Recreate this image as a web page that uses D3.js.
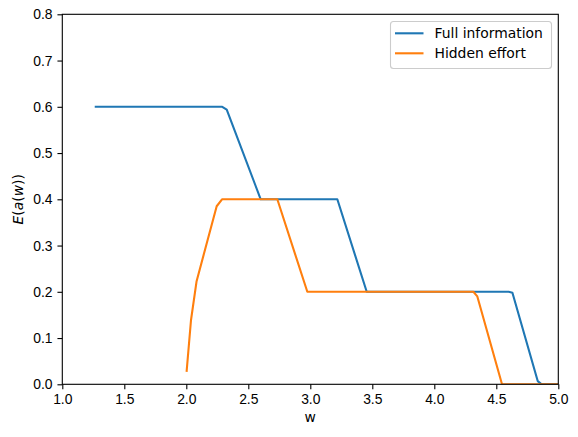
<!DOCTYPE html>
<html>
<head>
<meta charset="utf-8">
<script src="https://cdn.jsdelivr.net/npm/d3@7"></script>
<style>
  body { margin: 0; background: #fff; }
  svg { font-family: "DejaVu Sans", sans-serif; }
  .tick text { font-size: 13.9px; fill: #000; }
  .tick line { stroke: #000; stroke-width: 1.1; }
  .domain { display: none; }
</style>
</head>
<body>
<svg id="chart" width="578" height="437"></svg>
<script>
// values
let fullW = [1.27, 2.29, 2.326, 2.60, 3.218, 3.455, 4.60, 4.63, 4.834, 4.866, 5.0]
let fullE = [0.60, 0.60, 0.594, 0.40, 0.40, 0.20, 0.20, 0.198, 0.007, 0.0, 0.0]
let hiddenW = [2.003, 2.038, 2.083, 2.245, 2.288, 2.734, 2.976, 4.315, 4.347, 4.546, 5.0]
let hiddenE = [0.029, 0.139, 0.223, 0.385, 0.40, 0.40, 0.20, 0.20, 0.19, 0.0, 0.0]
let seriesNames = ["Full information", "Hidden effort"]
let seriesColors = ["#1f77b4", "#ff7f0e"]
let xTicks = [1.0, 1.5, 2.0, 2.5, 3.0, 3.5, 4.0, 4.5, 5.0]
let yTicks = [0.0, 0.1, 0.2, 0.3, 0.4, 0.5, 0.6, 0.7, 0.8]

let svg = d3.select("#chart")
let mLeft = 62.3, mRight = 558.3, mTop = 14.3, mBottom = 384.3

let x = d3.scaleLinear().domain([1, 5]).range([mLeft, mRight])
let y = d3.scaleLinear().domain([0, 0.8]).range([mBottom, mTop])

let series = [
  fullW.map((w, i) => [w, fullE[i]]),
  hiddenW.map((w, i) => [w, hiddenE[i]])
]

// clip to plot area
svg.append("clipPath").attr("id", "clip")
  .append("rect")
  .attr("x", mLeft).attr("y", mTop)
  .attr("width", mRight - mLeft).attr("height", mBottom - mTop)

let line = d3.line().x(d => x(d[0])).y(d => y(d[1]))

svg.append("g").attr("clip-path", "url(#clip)")
  .selectAll("path")
  .data(series)
  .enter()
  .append("path")
  .attr("d", line)
  .attr("fill", "none")
  .attr("stroke", (d, i) => seriesColors[i])
  .attr("stroke-width", 2.1)
  .attr("stroke-linejoin", "round")
  .attr("stroke-linecap", "square")

// axes
svg.append("g")
  .attr("transform", "translate(0," + mBottom + ")")
  .call(d3.axisBottom(x).tickValues(xTicks).tickFormat(d3.format(".1f")).tickSize(4.86).tickPadding(4.86))

svg.append("g")
  .attr("transform", "translate(" + mLeft + ",0)")
  .call(d3.axisLeft(y).tickValues(yTicks).tickFormat(d3.format(".1f")).tickSize(4.86).tickPadding(4.86))

// frame
svg.append("rect")
  .attr("x", mLeft).attr("y", mTop)
  .attr("width", mRight - mLeft).attr("height", mBottom - mTop)
  .attr("fill", "none").attr("stroke", "#000").attr("stroke-width", 1.1)

// axis labels
svg.append("text")
  .attr("x", (mLeft + mRight) / 2).attr("y", 422)
  .attr("text-anchor", "middle")
  .style("font-size", "13.9px")
  .text("w")

let ylab = svg.append("text")
  .attr("transform", "translate(22.5," + (mTop + mBottom) / 2 + ") rotate(-90)")
  .attr("text-anchor", "middle")
  .style("font-size", "13.9px")
ylab.append("tspan").style("font-style", "italic").text("E")
ylab.append("tspan").text("(")
ylab.append("tspan").style("font-style", "italic").text("a")
ylab.append("tspan").text("(")
ylab.append("tspan").style("font-style", "italic").text("w")
ylab.append("tspan").text("))")

// legend
let legend = svg.append("g")
legend.append("rect")
  .attr("x", 390.5).attr("y", 21.5)
  .attr("width", 161).attr("height", 47)
  .attr("rx", 3)
  .attr("fill", "#fff").attr("fill-opacity", 0.8)
  .attr("stroke", "#ccc").attr("stroke-width", 1.1)

seriesNames.forEach((name, i) => {
  let yy = 33.3 + i * 20
  legend.append("line")
    .attr("x1", 395).attr("x2", 423.5)
    .attr("y1", yy).attr("y2", yy)
    .attr("stroke", seriesColors[i]).attr("stroke-width", 2.1)
  legend.append("text")
    .attr("x", 434.5).attr("y", yy + 4.8)
    .style("font-size", "13.9px")
    .text(name)
})
</script>
</body>
</html>
